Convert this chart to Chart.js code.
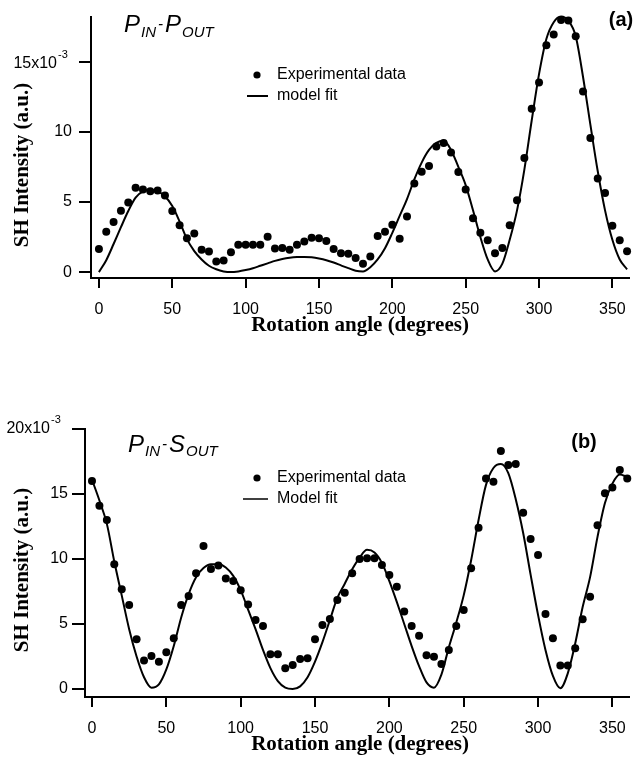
<!DOCTYPE html>
<html>
<head>
<meta charset="utf-8">
<title>SH intensity vs rotation angle</title>
<script src="https://cdn.jsdelivr.net/npm/chart.js@4.4.1/dist/chart.umd.min.js"></script>
<style>
body{margin:0;background:#fff}
#wrap{position:relative;width:638px;height:760px;background:#fff}
canvas{position:absolute;left:0}
#chartA{top:0}
#chartB{top:380px}
</style>
</head>
<body>
<div id="wrap">
  <canvas id="chartA" width="638" height="380"></canvas>
  <canvas id="chartB" width="638" height="380"></canvas>
</div>
<script>
// rotation angles (degrees) shared by both panels
var angles = [0,5,10,15,20,25,30,35,40,45,50,55,60,65,70,75,80,85,90,95,
  100,105,110,115,120,125,130,135,140,145,150,155,160,165,170,175,180,185,190,195,
  200,205,210,215,220,225,230,235,240,245,250,255,260,265,270,275,280,285,290,295,
  300,305,310,315,320,325,330,335,340,345,350,355,360]

// (a) P_IN-P_OUT, values in 1e-3 a.u.
var expA = [1.65,2.87,3.57,4.37,4.95,6.0,5.88,5.76,5.82,5.46,4.35,3.33,2.41,2.75,1.6,1.46,0.76,0.83,1.41,1.94,
  1.95,1.95,1.94,2.52,1.69,1.71,1.6,1.94,2.18,2.45,2.41,2.22,1.64,1.34,1.3,1.0,0.6,1.11,2.57,2.87,
  3.38,2.38,3.96,6.32,7.15,7.55,8.94,9.2,8.52,7.13,5.88,3.84,2.8,2.27,1.34,1.71,3.33,5.12,8.13,11.64,
  13.5,16.16,16.92,17.96,17.92,16.8,12.87,9.56,6.67,5.63,3.31,2.27,1.48]
var fitA = [0.0,0.85,2.0,3.2,4.35,5.3,5.75,5.85,5.75,5.4,4.7,3.6,2.35,1.5,0.9,0.45,0.2,0.05,0.0,0.05,
  0.15,0.28,0.45,0.62,0.8,0.93,1.02,1.07,1.08,1.05,0.97,0.85,0.68,0.48,0.28,0.1,0.05,0.35,0.9,1.7,
  2.8,4.0,5.2,6.6,7.8,8.7,9.2,9.35,8.7,7.5,6.2,4.4,2.5,0.9,0.05,0.6,2.3,4.4,7.3,10.8,
  14.1,16.6,17.8,18.2,17.9,16.8,13.9,10.5,7.2,4.4,2.3,0.9,0.2]

// (b) P_IN-S_OUT, values in 1e-3 a.u.
var expB = [16.0,14.1,13.0,9.6,7.67,6.46,3.82,2.18,2.54,2.1,2.82,3.9,6.46,7.15,8.9,11.0,9.23,9.49,8.5,8.3,
  7.6,6.5,5.3,4.85,2.67,2.67,1.6,1.85,2.3,2.36,3.82,4.92,5.38,6.85,7.4,8.9,10.0,10.05,10.05,9.54,
  8.77,7.87,5.95,4.85,4.1,2.6,2.48,1.92,3.0,4.85,6.08,9.28,12.4,16.2,15.95,18.3,17.23,17.3,13.56,11.54,
  10.3,5.77,3.9,1.8,1.8,3.13,5.36,7.1,12.6,15.05,15.5,16.85,16.2]
var fitB = [16.1,14.5,12.7,9.8,7.2,4.6,2.5,0.9,0.1,0.35,1.5,3.3,5.5,7.3,8.6,9.3,9.6,9.6,9.35,8.7,
  7.6,6.1,4.6,3.0,1.6,0.6,0.1,0.0,0.2,0.9,2.1,3.6,5.3,7.0,8.1,9.2,10.1,10.7,10.5,9.7,
  8.3,6.7,5.0,3.3,1.75,0.5,0.1,1.1,3.2,5.1,7.2,9.9,13.0,15.7,17.0,17.3,16.6,14.6,12.0,8.8,
  5.7,3.0,1.0,0.05,1.2,3.5,6.3,8.6,11.7,14.3,15.8,16.5,16.3]

var xTicks = [0,50,100,150,200,250,300,350]
var yTicksA = [0,5,10,15]
var yTicksB = [0,5,10,15,20]

Chart.defaults.font.family = '"Liberation Sans", Arial, sans-serif'
Chart.defaults.font.size = 16
Chart.defaults.color = '#000'

function pts(ys){
  return angles.map(function(a, i){ return {x: a, y: ys[i]} })
}

function drawParts(ctx, x, y, parts){
  ctx.textAlign = 'left'
  ctx.textBaseline = 'alphabetic'
  parts.forEach(function(p){
    ctx.font = 'italic ' + p.size + 'px "Liberation Sans"'
    ctx.fillText(p.t, x, y + p.dy)
    x += ctx.measureText(p.t).width + (p.gap || 0)
  })
}

// extra text drawn on top of each panel
function decor(o){
  return {
    id: 'decor',
    afterDraw: function(chart){
      var ctx = chart.ctx
      var ys = chart.scales.y
      ctx.save()
      ctx.fillStyle = '#000'
      ctx.strokeStyle = '#000'

      // top tick label with exponent
      var ty = ys.getPixelForValue(o.topTick)
      ctx.font = '16px "Liberation Sans"'
      ctx.textAlign = 'right'
      ctx.textBaseline = 'middle'
      ctx.fillText(o.topTick + 'x10', o.expX, ty + o.topDy)
      ctx.font = '11px "Liberation Sans"'
      ctx.textAlign = 'left'
      ctx.fillText('-3', o.expX + 1, ty + o.topDy - 9)

      // panel title
      drawParts(ctx, o.titleX, o.titleY, o.title)

      // panel letter
      ctx.font = 'bold 20px "Liberation Sans"'
      ctx.textAlign = 'center'
      ctx.textBaseline = 'middle'
      ctx.fillText(o.letter, o.letterX, o.letterY)

      // legend
      ctx.beginPath()
      ctx.arc(257, o.legY, 3.6, 0, Math.PI * 2)
      ctx.fill()
      ctx.lineWidth = o.legLine
      ctx.beginPath()
      ctx.moveTo(o.legX0, o.legY + 21)
      ctx.lineTo(268, o.legY + 21)
      ctx.stroke()
      ctx.font = '16px "Liberation Sans"'
      ctx.textAlign = 'left'
      ctx.fillText('Experimental data', 277, o.legY)
      ctx.fillText(o.fitLabel, 277, o.legY + 21)

      // axis titles
      ctx.font = 'bold 21px "Liberation Serif"'
      ctx.textAlign = 'center'
      ctx.fillText('Rotation angle (degrees)', 360, o.xTitleY)
      ctx.translate(23, o.yTitleY)
      ctx.rotate(-Math.PI / 2)
      ctx.fillText('SH Intensity (a.u.)', 0, 0)
      ctx.restore()
    }
  }
}

function makeChart(id, exp, fit, o){
  return new Chart(document.getElementById(id).getContext('2d'), {
    type: 'scatter',
    data: {
      datasets: [{
        label: 'Experimental data',
        data: pts(exp),
        pointRadius: 4,
        pointBackgroundColor: '#000',
        pointBorderColor: '#000',
        pointBorderWidth: 0,
        showLine: false,
        clip: false
      }, {
        label: o.fitLabel,
        data: pts(fit),
        showLine: true,
        pointRadius: 0,
        borderColor: '#000',
        borderWidth: 2,
        cubicInterpolationMode: 'monotone',
        clip: false
      }]
    },
    options: {
      responsive: false,
      animation: false,
      devicePixelRatio: 1,
      layout: {padding: {top: o.padTop, right: 9, left: 0, bottom: 0}},
      plugins: {legend: {display: false}, tooltip: {enabled: false}},
      scales: {
        x: {
          type: 'linear',
          min: o.xMin, max: 361,
          afterBuildTicks: function(s){ s.ticks = xTicks.map(function(v){ return {value: v} }) },
          afterFit: function(s){ s.height = o.xHeight },
          border: {display: true, color: '#000', width: 2},
          grid: {drawOnChartArea: false, drawTicks: true, tickLength: 10, color: '#000', lineWidth: 2},
          ticks: {padding: 12, maxRotation: 0, autoSkip: false, font: {size: 16}}
        },
        y: {
          type: 'linear',
          min: o.yMin, max: o.yMax,
          afterBuildTicks: function(s){ s.ticks = o.yTicks.map(function(v){ return {value: v} }) },
          afterFit: function(s){ s.width = o.yWidth },
          border: {display: true, color: '#000', width: 2},
          grid: {drawOnChartArea: false, drawTicks: true, tickLength: o.yTick, color: '#000', lineWidth: 2},
          ticks: {
            padding: o.yPad,
            font: {size: 16},
            callback: function(v){ return v === o.topTick ? '' : v }
          }
        }
      }
    },
    plugins: [decor(o)]
  })
}

makeChart('chartA', expA, fitA, {
  padTop: 10, xHeight: 102, yWidth: 91, xMin: -5.4, yMin: -0.42, yMax: 18.2,
  yTicks: yTicksA, yTick: 12, yPad: 7, topTick: 15, expX: 57, topDy: 2,
  title: [{t: 'P', size: 24, dy: 0, gap: 1}, {t: 'IN', size: 15, dy: 5, gap: 2},
          {t: '-', size: 15, dy: -3, gap: 2}, {t: 'P', size: 24, dy: 0, gap: 1}, {t: 'OUT', size: 15, dy: 5}],
  titleX: 124, titleY: 32, letter: '(a)', letterX: 621, letterY: 20,
  legY: 75, legX0: 247, legLine: 2, fitLabel: 'model fit',
  xTitleY: 326, yTitleY: 165
})

makeChart('chartB', expB, fitB, {
  padTop: 49, xHeight: 63, yWidth: 85, xMin: -4.7, yMin: -0.62, yMax: 20,
  yTicks: yTicksB, yTick: 13, yPad: 4, topTick: 20, expX: 50, topDy: 0,
  title: [{t: 'P', size: 24, dy: 0, gap: 1}, {t: 'IN', size: 15, dy: 4, gap: 2},
          {t: '-', size: 15, dy: -3, gap: 2}, {t: 'S', size: 24, dy: 0, gap: 1}, {t: 'OUT', size: 15, dy: 4}],
  titleX: 128, titleY: 72, letter: '(b)', letterX: 584, letterY: 62,
  legY: 98, legX0: 243, legLine: 1.5, fitLabel: 'Model fit',
  xTitleY: 365, yTitleY: 190
})
</script>
</body>
</html>
